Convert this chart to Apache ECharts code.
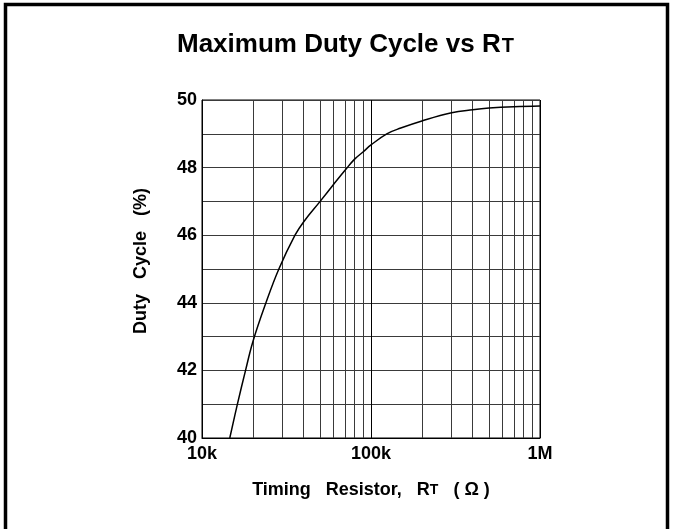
<!DOCTYPE html>
<html>
<head>
<meta charset="utf-8">
<script src="https://cdn.jsdelivr.net/npm/echarts@6/dist/echarts.min.js"></script>
<style>
	html, body { margin: 0; padding: 0; background: #fff; }
	#chart { width: 673px; height: 529px; }
</style>
</head>
<body>
<div id="chart"></div>
<script type="text/javascript">
	// timing resistor (ohm) and max duty cycle (%)
	var rtValues = [14600, 16200, 18100, 20000, 23900, 28500, 35500, 40000, 50000, 60000, 71000, 80000, 90000, 100000, 124000, 150000, 200000, 300000, 400000, 500000, 700000, 1000000];
	var dutyValues = [40, 41, 42, 42.85, 44, 45, 46, 46.4, 47.0, 47.5, 47.95, 48.25, 48.47, 48.67, 49.0, 49.17, 49.38, 49.62, 49.71, 49.76, 49.8, 49.82];
	// minor vertical grid lines of the log axis
	var xMinorTicks = [20000, 30000, 40000, 50000, 60000, 70000, 80000, 90000, 200000, 300000, 400000, 500000, 600000, 700000, 800000, 900000];
	var xTickLabels = { 10000: '10k', 100000: '100k', 1000000: '1M' };

	var font = '"Liberation Sans", Arial, Helvetica, sans-serif';
	var gridColor = '#3a3a3a';

	var curve = [];
	for (var i = 0; i < rtValues.length; i++) {
		curve.push([rtValues[i], dutyValues[i]]);
	}

	var chart = echarts.init(document.getElementById('chart'));
	var option = {
		backgroundColor: '#fff',
		animation: false,
		graphic: [{
			type: 'rect',
			shape: { x: 5.5, y: 4.5, width: 662, height: 600 },
			style: { fill: 'none', stroke: '#000', lineWidth: 3.5 },
			silent: true
		}],
		title: {
			text: '{a|Maximum Duty Cycle vs R}{b|T}',
			left: 172,
			top: 27,
			textStyle: {
				rich: {
					a: { fontFamily: font, fontSize: 26, fontWeight: 'bold', color: '#000' },
					b: { fontFamily: font, fontSize: 20, fontWeight: 'bold', color: '#000', verticalAlign: 'bottom', padding: [0, 0, 2, 1] }
				}
			}
		},
		grid: {
			left: 202,
			right: 133,
			top: 100,
			bottom: 91,
			show: true,
			borderColor: '#000',
			borderWidth: 1,
			containLabel: false
		},
		xAxis: {
			type: 'log',
			logBase: 10,
			min: 10000,
			max: 1000000,
			name: '{n|Timing   Resistor,   R}{s|T}{n|   ( Ω )}',
			nameLocation: 'middle',
			nameGap: 43,
			nameTextStyle: {
				rich: {
					n: { fontFamily: font, fontSize: 18, fontWeight: 'bold', color: '#000' },
					s: { fontFamily: font, fontSize: 14, fontWeight: 'bold', color: '#000', verticalAlign: 'bottom', padding: [0, 0, 2, 0] }
				}
			},
			axisLine: { show: true, lineStyle: { color: '#000', width: 1 } },
			axisTick: { show: false },
			axisLabel: {
				margin: 7,
				fontFamily: font,
				fontSize: 18,
				fontWeight: 'bold',
				color: '#000',
				formatter: function (v) { return xTickLabels[Math.round(v)] || ''; }
			},
			splitLine: { show: true, lineStyle: { color: '#000', width: 1 } }
		},
		yAxis: {
			type: 'value',
			min: 40,
			max: 50,
			interval: 1,
			name: 'Duty   Cycle   (%)',
			nameLocation: 'middle',
			nameRotate: 90,
			nameGap: 52,
			nameTextStyle: {
				fontFamily: font,
				fontSize: 18,
				fontWeight: 'bold',
				color: '#000',
				padding: [0, 0, 0, 16]
			},
			axisLine: { show: true, lineStyle: { color: '#000', width: 1 } },
			axisTick: { show: false },
			axisLabel: {
				margin: 5,
				fontFamily: font,
				fontSize: 18,
				fontWeight: 'bold',
				color: '#000',
				formatter: function (v) { return v % 2 === 0 ? String(v) : ''; }
			},
			splitLine: { show: true, lineStyle: { color: gridColor, width: 1 } }
		},
		series: [{
			name: 'Maximum Duty Cycle',
			type: 'line',
			data: curve,
			smooth: 0.4,
			showSymbol: false,
			symbol: 'none',
			silent: true,
			z: 5,
			lineStyle: { color: '#000', width: 1.5 },
			markLine: {
				silent: true,
				symbol: 'none',
				label: { show: false },
				lineStyle: { color: gridColor, width: 1, type: 'solid' },
				emphasis: { disabled: true },
				data: xMinorTicks.map(function (v) { return { xAxis: v }; })
			}
		}]
	};
	chart.setOption(option);
</script>
</body>
</html>
